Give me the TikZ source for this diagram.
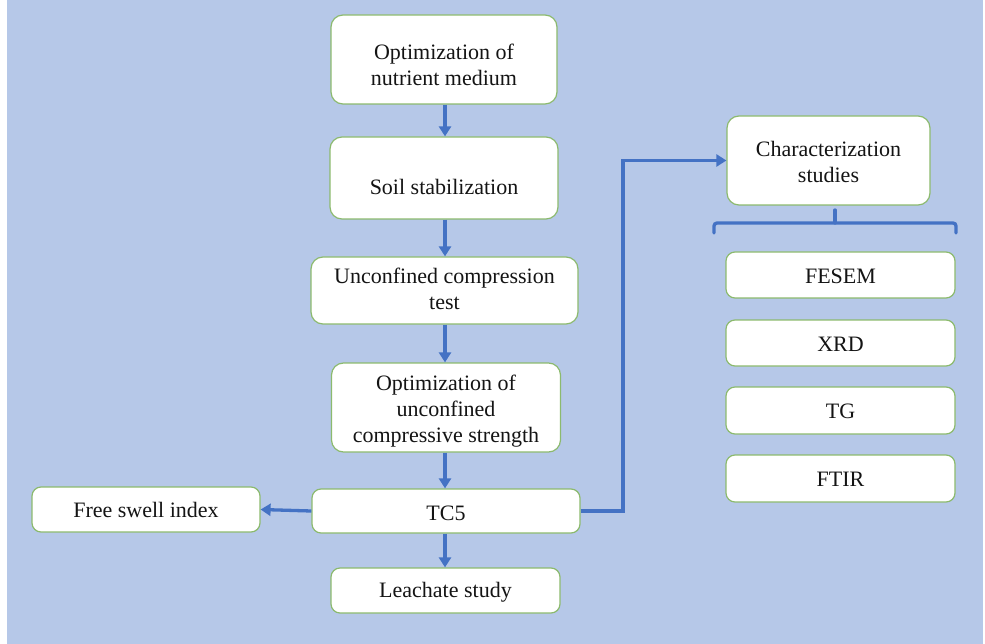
\documentclass[tikz,border=0pt]{standalone}
\usepackage{fontspec}
\newfontfamily\tnr{Liberation Serif}
\usetikzlibrary{arrows.meta}
\definecolor{bgblue}{RGB}{182,200,232}
\definecolor{boxgreen}{RGB}{140,186,110}
\definecolor{arrowblue}{RGB}{68,114,196}
\definecolor{txt}{RGB}{20,20,20}
\newcommand{\dn}[2]{\raisebox{-#1}[\height][\depth]{\begin{tabular}{@{}c@{}}#2\end{tabular}}}
\tikzset{
  box/.style={draw=boxgreen, line width=1.2pt, fill=white, rounded corners=12pt,
    inner sep=0pt, text=txt,
    font=\tnr\fontsize{22}{26}\selectfont},
  smallbox/.style={box, rounded corners=9pt},
  flow/.style={draw=arrowblue, line width=3.3pt, -{Triangle[length=10pt,width=12pt]}},
  bracket/.style={draw=arrowblue, line width=3.3pt, rounded corners=3pt, line cap=round}
}
\begin{document}
\begin{tikzpicture}[x=1pt,y=-1pt]
\useasboundingbox (0,0) rectangle (985,644);
\fill[white] (0,0) rectangle (985,644);
\fill[bgblue] (7,0) rectangle (983,644);

\node[box, minimum width=226pt, minimum height=89pt] (b1) at (444,59.5) {\dn{8pt}{Optimization of\\nutrient medium}};
\node[box, minimum width=228pt, minimum height=82pt] (b2) at (444,178) {\dn{11pt}{Soil stabilization}};
\node[box, minimum width=267pt, minimum height=67pt] (b3) at (444.5,290.5) {\dn{1pt}{Unconfined compression\\test}};
\node[box, minimum width=229pt, minimum height=89pt] (b4) at (446,407.5) {\dn{4pt}{Optimization of\\unconfined\\compressive strength}};
\node[smallbox, minimum width=268pt, minimum height=44pt] (b5) at (446,511) {\dn{4pt}{TC5}};
\node[smallbox, minimum width=229pt, minimum height=45pt] (b6) at (445.5,590.5) {\dn{2pt}{Leachate study}};
\node[smallbox, minimum width=228pt, minimum height=45pt] (fs) at (146,509.5) {\dn{3pt}{Free swell index}};
\node[box, minimum width=203pt, minimum height=89pt] (ch) at (828.5,160.5) {\dn{4pt}{Characterization\\studies}};
\node[smallbox, minimum width=229pt, minimum height=46pt] (fe) at (840.5,275) {\dn{3pt}{FESEM}};
\node[smallbox, minimum width=229pt, minimum height=46pt] (xr) at (840.5,343) {\dn{3pt}{XRD}};
\node[smallbox, minimum width=229pt, minimum height=47pt] (tg) at (840.5,410.5) {\dn{3pt}{TG}};
\node[smallbox, minimum width=229pt, minimum height=47pt] (ft) at (840.5,478.5) {\dn{3pt}{FTIR}};

\draw[flow] (b1.south -| 445,0) -- (b2.north -| 445,0);
\draw[flow] (b2.south -| 445,0) -- (b3.north -| 445,0);
\draw[flow] (b3.south -| 445,0) -- (b4.north -| 445,0);
\draw[flow] (b4.south -| 445,0) -- (b5.north -| 445,0);
\draw[flow] (b5.south -| 445,0) -- (b6.north -| 445,0);
\draw[flow] (b5.west) -- (fs.east);
\coordinate (turn) at (623,511);
\draw[flow] (b5.east) -- (turn) |- (ch.west);

\coordinate (stemtop) at (835,210);
\coordinate (stembot) at (835,223);
\coordinate (bl) at (714,233);
\coordinate (br) at (956,233);
\draw[bracket] (stemtop) -- (stembot);
\draw[bracket] (bl) -- (bl |- stembot) -- (br |- stembot) -- (br);
\end{tikzpicture}
\end{document}
